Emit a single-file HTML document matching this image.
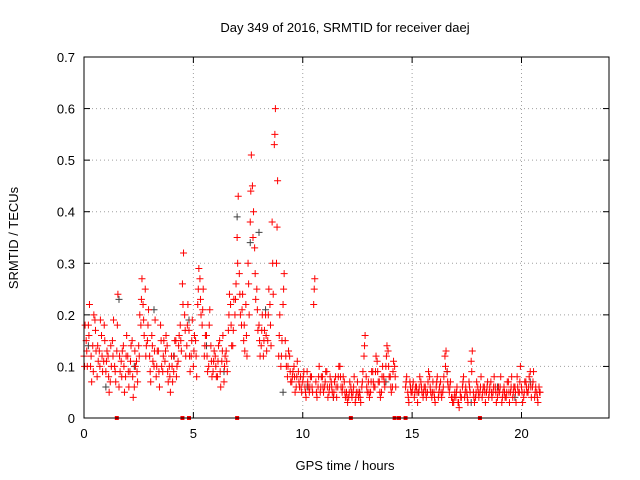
<!DOCTYPE html>
<html><head><meta charset="utf-8"><style>
html,body{margin:0;padding:0;background:#fff;}
svg{display:block;font-family:"Liberation Sans",sans-serif;}
</style></head><body>
<svg id="chart" width="640" height="480" viewBox="0 0 640 480">
<text x="345" y="32" font-size="13" text-anchor="middle">Day 349 of 2016, SRMTID for receiver daej</text>
<text x="345" y="470" font-size="13" text-anchor="middle">GPS time / hours</text>
<text x="18" y="238" font-size="13" text-anchor="middle" transform="rotate(-90 18 238)">SRMTID / TECUs</text>
<g id="grid"></g><g id="ticks"></g><g id="marks"></g>
<rect x="84" y="57" width="525" height="361" fill="none" stroke="#000" stroke-width="1"/>
</svg>
<script>
const xTicks=[0,5,10,15,20];
const yTicks=[0,0.1,0.2,0.3,0.4,0.5,0.6,0.7];
const yTickLabels=["0","0.1","0.2","0.3","0.4","0.5","0.6","0.7"];
const times=[0.0,0.1,0.2,0.3,0.4,0.5,0.6,0.7,0.8,0.9,1.0,1.1,1.2,1.3,1.4,1.5,1.6,1.7,1.8,1.9,2.0,2.1,2.2,2.3,2.4,2.5,2.6,2.7,2.8,2.9,3.0,3.1,3.2,3.3,3.4,3.5,3.6,3.7,3.8,3.9,4.0,4.1,4.2,4.3,4.4,4.5,4.6,4.7,4.8,4.9,5.0,5.1,5.2,5.3,5.4,5.5,5.6,5.7,5.8,5.9,6.0,6.1,6.2,6.3,6.4,6.5,6.6,6.7,6.8,6.9,7.0,7.1,7.2,7.3,7.4,7.5,7.6,7.7,7.8,7.9,8.0,8.1,8.2,8.3,8.4,8.5,8.6,8.7,8.8,8.9,9.0,9.1,9.2,9.3,9.4,9.5,9.6,9.7,9.8,9.9,10.0,10.1,10.2,10.3,10.4,10.5,10.6,10.7,10.8,10.9,11.0,11.1,11.2,11.3,11.4,11.5,11.6,11.7,11.8,11.9,12.0,12.1,12.2,12.3,12.4,12.5,12.6,12.7,12.8,12.9,13.0,13.1,13.2,13.3,13.4,13.5,13.6,13.7,13.8,13.9,14.0,14.1,14.2,14.3,14.4,14.5,14.6,14.7,14.8,14.9,15.0,15.1,15.2,15.3,15.4,15.5,15.6,15.7,15.8,15.9,16.0,16.1,16.2,16.3,16.4,16.5,16.6,16.7,16.8,16.9,17.0,17.1,17.2,17.3,17.4,17.5,17.6,17.7,17.8,17.9,18.0,18.1,18.2,18.3,18.4,18.5,18.6,18.7,18.8,18.9,19.0,19.1,19.2,19.3,19.4,19.5,19.6,19.7,19.8,19.9,20.0,20.1,20.2,20.3,20.4,20.5,20.6,20.7,20.8];
const valsA=[.12,.15,.18,.10,.14,.19,.08,.13,.16,.11,
.09,.12,.07,.15,.10,.13,.06,.11,.14,.08,
.12,.09,.15,.06,.11,.14,.18,.22,.25,.15,
.12,.16,.10,.08,.13,.18,.09,.11,.14,.10,
.12,.09,.15,.11,.18,.26,.20,.14,.17,.12,
.10,.15,.22,.27,.18,.12,.16,.10,.14,.09,
.12,.08,.15,.11,.07,.13,.17,.22,.14,.20,
.35,.28,.18,.15,.22,.30,.38,.45,.33,.25,
.18,.14,.12,.20,.15,.22,.38,.53,.30,.12,
.10,.22,.15,.08,.12,.07,.10,.06,.09,.08,
.07,.06,.09,.05,.08,.22,.07,.06,.05,.08,
.06,.09,.05,.07,.04,.08,.06,.10,.05,.07,
.05,.04,.06,.05,.03,.07,.05,.06,.12,.08,
.07,.05,.09,.06,.11,.07,.05,.08,.10,.13,
.08,.06,.10,null,null,null,null,.06,.05,.07,
.05,.04,.06,.05,.07,.04,.06,.05,.08,.04,
.05,.06,.04,.07,.05,.12,.09,.05,.04,.03,
.04,.03,.05,.06,.04,.05,.07,.11,.05,.04,
.06,.05,.04,.06,.05,.04,.07,.05,.06,.04,
.05,.03,.06,.04,.07,.05,.04,.06,.08,.05,
.06,.04,.07,.05,.09,.06,.04,.05,.06];
const valsB=[.18,.10,.22,.07,.20,.13,.11,.19,.09,.15,
.13,.05,.10,.19,.07,.24,.09,.13,.05,.16,
.06,.14,.04,.10,.07,.20,.27,.16,.14,.21,
.07,.11,.19,.13,.06,.10,.15,.16,.07,.05,
.07,.15,.10,.16,.13,.32,.12,.22,.09,.19,
.16,.08,.29,.20,.25,.16,.09,.21,.08,.13,
.08,.14,.06,.16,.12,.09,.24,.14,.23,.26,
.43,.20,.24,.13,.12,.20,.51,.40,.23,.17,
.12,.20,.17,.13,.25,.14,.24,.60,.46,.20,
.15,.28,.10,.13,.07,.09,.05,.11,.06,.05,
.09,.04,.06,.08,.05,.27,.04,.10,.08,.05,
.09,.04,.08,.05,.07,.04,.10,.06,.08,.04,
.03,.07,.04,.08,.05,.04,.03,.09,.16,.05,
.04,.09,.06,.12,.07,.04,.10,.06,.14,.08,
.05,.11,.06,null,null,null,null,.08,.03,.05,
.07,.06,.03,.08,.05,.06,.04,.09,.05,.07,
.03,.08,.06,.04,.08,.13,.06,.07,.03,.05,
.06,.02,.04,.08,.06,.03,.05,.13,.03,.07,
.04,.08,.06,.03,.07,.06,.04,.08,.03,.06,
.08,.05,.04,.07,.03,.08,.06,.03,.05,.10,
.03,.07,.05,.08,.04,.09,.06,.03,.05];
const valsC=[.10,.13,.16,.12,.09,.17,.14,.10,.12,.18,
.11,.08,.14,.12,.09,.18,.12,.08,.10,.12,
.09,.11,.08,.13,.09,.12,.23,.19,.12,.18,
.09,.14,.13,.10,.09,.15,.12,.13,.09,.08,
.10,.12,.08,.14,.15,.22,.17,.18,.12,.15,
.13,.12,.25,.23,.21,.14,.12,.18,.11,.11,
.10,.11,.09,.13,.10,.11,.20,.18,.17,.23,
.30,.24,.21,.18,.16,.26,.44,.35,.28,.21,
.15,.17,.15,.16,.20,.18,.30,.55,.37,.16,
.12,.25,.12,.10,.09,.08,.08,.08,.07,.06,
.08,.05,.07,.06,.06,.25,.05,.08,.06,.06,
.07,.06,.06,.06,.05,.06,.08,.08,.06,.05,
.04,.05,.05,.06,.04,.05,.04,.07,.14,.06,
.05,.07,.07,.09,.09,.05,.08,.07,.12,.10,
.06,.09,.08,null,null,null,null,.07,.04,.06,
.06,.05,.05,.06,.06,.05,.05,.07,.06,.05,
.04,.07,.05,.05,.06,.10,.07,.06,.04,.04,
.05,.03,.04,.07,.05,.04,.06,.09,.04,.05,
.05,.06,.05,.05,.06,.05,.05,.06,.05,.05,
.06,.04,.05,.05,.05,.06,.05,.05,.06,.07,
.05,.05,.06,.06,.06,.07,.05,.04,.05];
const darkTimes=[0.2,1.0,1.6,2.3,3.2,4.1,4.8,5.6,6.4,7.0,7.6,8.0,8.3,9.1,10.2,11.4,12.6,13.8,15.3,16.6,17.7,18.9,19.7,20.4];
const darkVals=[.14,.06,.23,.10,.21,.12,.19,.14,.09,.39,.34,.36,.21,.05,.06,.04,.05,.07,.05,.09,.03,.06,.04,.07];
const zeroTimes=[1.5,4.5,4.8,7.0,12.2,14.2,14.4,14.7,18.1];

const X0=84,X1=609,Y0=418,Y1=57;
const xs=t=>X0+(X1-X0)*t/24;
const ys=v=>Y0-(Y0-Y1)*v/0.7;
const NS="http://www.w3.org/2000/svg";
function mk(tag,attrs,parent){const e=document.createElementNS(NS,tag);for(const k in attrs)e.setAttribute(k,attrs[k]);parent.appendChild(e);return e;}
const grid=document.getElementById('grid'),ticks=document.getElementById('ticks'),marks=document.getElementById('marks');
yTicks.forEach((v,i)=>{
  const y=ys(v);
  if(i>0&&i<yTicks.length-1){const g=mk('line',{x1:X0,x2:X1,y1:y,y2:y,stroke:'#a0a0a0','stroke-dasharray':'1,3'},grid);
  
  }
  mk('line',{x1:X0,x2:X0+6,y1:y,y2:y,stroke:'#000'},ticks);
  mk('line',{x1:X1,x2:X1-6,y1:y,y2:y,stroke:'#000'},ticks);
  const t=mk('text',{x:X0-9,y:y+5,'font-size':13,'text-anchor':'end'},ticks);t.textContent=yTickLabels[i];
  
  
});
xTicks.forEach(v=>{
  const x=xs(v);
  if(v>0){const g=mk('line',{x1:x,x2:x,y1:Y0,y2:Y1,stroke:'#a0a0a0','stroke-dasharray':'1,3'},grid);
  
  }
  mk('line',{x1:x,x2:x,y1:Y0,y2:Y0-6,stroke:'#000'},ticks);
  mk('line',{x1:x,x2:x,y1:Y1,y2:Y1+6,stroke:'#000'},ticks);
  const t=mk('text',{x:x,y:Y0+20,'font-size':13,'text-anchor':'middle'},ticks);t.textContent=String(v);
  
  
});
function plus(t,v,color,name){
  const x=xs(t),y=ys(v);
  const p=mk('path',{d:`M${x-3.5},${y}H${x+3.5}M${x},${y-3.5}V${y+3.5}`,stroke:color,'stroke-width':1,fill:'none'},marks);
  
  
}
darkTimes.forEach((t,i)=>plus(t,darkVals[i],'#404040','dark-point'));
times.forEach((t,i)=>{
  if(valsA[i]!==null)plus(t,valsA[i],'#ff0000','srmtid-point');
  if(valsB[i]!==null)plus(t+0.05,valsB[i],'#ff0000','srmtid-point');
  if(valsC[i]!==null)plus(t+0.025,valsC[i],'#ff0000','srmtid-point');
});
zeroTimes.forEach(t=>{
  const r=mk('rect',{x:xs(t)-2,y:Y0-2,width:4,height:4,fill:'#ff0000'},marks);
  
  
});
</script>
</body></html>
